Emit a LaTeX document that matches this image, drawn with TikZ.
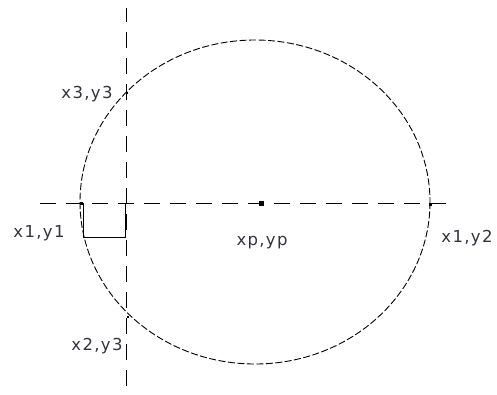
\documentclass[tikz,border=0pt]{standalone}
\usepackage{fontspec}
\setmainfont{DejaVu Sans}[LetterSpace=8]
\usetikzlibrary{calc, positioning}
\definecolor{lblgray}{HTML}{33333D}
\tikzset{
  rim/.style      = {draw, line width=0.9pt, dash pattern=on 7pt off 2.5pt},
  guide/.style    = {draw, line width=1pt, dash pattern=on 16pt off 10pt},
  corner/.style   = {draw, line width=1pt},
  dot/.style      = {fill, inner sep=0pt, minimum size=#1},
  lbl/.style      = {font=\fontsize{16.5}{18}\selectfont, text=lblgray, inner sep=0pt, anchor=base},
}
\begin{document}
\begin{tikzpicture}[x=1pt, y=-1pt]
  \useasboundingbox (0,0) rectangle (497,394);
  \coordinate (cen) at (255,202);
  \coordinate (hl) at (40,203);
  \coordinate (hr) at (448,203);
  \coordinate (vt) at (126,8);
  \coordinate (vb) at (126,394);
  \draw[rim] (cen) ellipse [x radius=175, y radius=162];
  \draw[guide] (hl) -- (hr);
  \draw[guide, dash phase=2pt] (vt) -- (vb);
  \node[dot=5pt] (p) at (261,203) {};
  \node[dot=3pt] (p1) at (81,203) {};
  \node[dot=3pt] (p2) at (430,204) {};
  \node[dot=2.5pt] (p3) at (127,93) {};
  \node[dot=2.5pt] (p4) at (128,317) {};
  \coordinate (sqa) at (83,203);
  \coordinate (sqb) at (83,237);
  \coordinate (sqc) at (125,237);
  \coordinate (sqd) at (125,203);
  \draw[corner] (sqa) -- (sqb) -- (sqc) -- (sqd);
  \node[lbl] (l3) at (87,98) {x3,y3};
  \node[lbl] (l1) at (39,237) {x1,y1};
  \node[lbl] (lp) at (262,245) {xp,yp};
  \node[lbl] (l2) at (467,242) {x1,y2};
  \node[lbl] (l4) at (97,350) {x2,y3};
\end{tikzpicture}
\end{document}
